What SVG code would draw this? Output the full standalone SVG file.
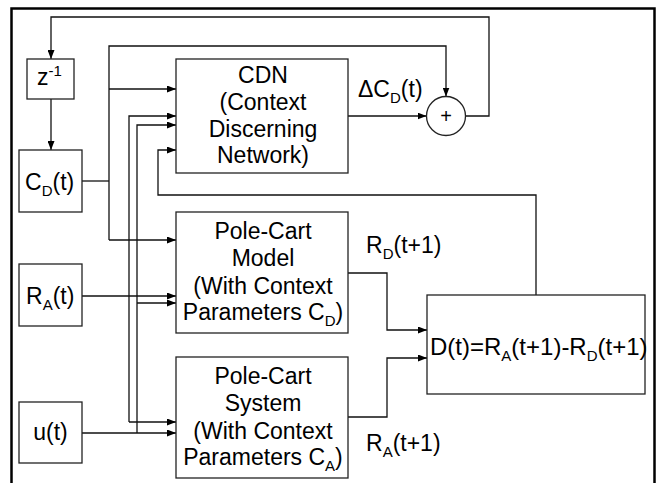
<svg xmlns="http://www.w3.org/2000/svg" width="660" height="483" viewBox="0 0 660 483">
<style>
.box{fill:#fff;stroke:#222;stroke-width:1.3}
.ln{fill:none;stroke:#111;stroke-width:1.3}
.arr{marker-end:url(#ah)}
text{font-family:"Liberation Sans",Arial,sans-serif;fill:#000;font-size:23px}
.c{text-anchor:middle}
.sub{font-size:15px}
</style>
<defs>
<marker id="ah" markerUnits="userSpaceOnUse" markerWidth="9" markerHeight="7" refX="9" refY="3.5" orient="auto">
<path d="M0,0 L9,3.5 L0,7 z" fill="#000"/>
</marker>
</defs>
<rect x="0" y="0" width="660" height="483" fill="#fff"/>
<rect x="11.5" y="8.5" width="643" height="490" fill="none" stroke="#000" stroke-width="2.5"/>

<g id="connectors">
<polyline class="ln" points="466,116 489,116 489,17 51,17 51,59" marker-end="url(#ah)"/>
<line class="ln arr" x1="51" y1="99" x2="51" y2="150"/>
<polyline class="ln" points="82,181 109,181"/>
<polyline class="ln arr" points="109,240 109,46 446,46 446,96.5"/>
<line class="ln arr" x1="109" y1="89" x2="176" y2="89"/>
<polyline class="ln arr" points="109,240 176,240"/>
<polyline class="ln arr" points="129,422 129,116 176,116"/>
<line class="ln arr" x1="129" y1="422" x2="176" y2="422"/>
<polyline class="ln arr" points="137,433 137,125 176,125"/>
<line class="ln arr" x1="137" y1="303" x2="176" y2="303"/>
<line class="ln arr" x1="82" y1="296" x2="176" y2="296"/>
<line class="ln arr" x1="82" y1="433" x2="176" y2="433"/>
<line class="ln arr" x1="348" y1="116" x2="426.5" y2="116"/>
<polyline class="ln arr" points="536,295 536,195 158,195 158,150 176,150"/>
<polyline class="ln arr" points="348,273 387,273 387,330 427,330"/>
<polyline class="ln arr" points="348,417 387,417 387,358 427,358"/>
</g>

<g id="z-inv">
<rect class="box" x="27" y="59" width="47" height="40"/>
<text x="37" y="85">z<tspan class="sub" dy="-9">-1</tspan></text>
</g>
<g id="cd">
<rect class="box" x="19" y="150" width="63" height="62"/>
<text x="25" y="190">C<tspan class="sub" dy="6">D</tspan><tspan dy="-6">(t)</tspan></text>
</g>
<g id="ra">
<rect class="box" x="19" y="264" width="63" height="62"/>
<text x="26" y="304">R<tspan class="sub" dy="6">A</tspan><tspan dy="-6">(t)</tspan></text>
</g>
<g id="u">
<rect class="box" x="19" y="402" width="63" height="61"/>
<text x="50.5" y="440" class="c">u(t)</text>
</g>
<g id="cdn">
<rect class="box" x="176" y="59" width="172" height="114"/>
<text class="c" x="263" y="83">CDN</text>
<text class="c" x="263" y="110">(Context</text>
<text class="c" x="263" y="137">Discerning</text>
<text class="c" x="263" y="163">Network)</text>
</g>
<g id="sum">
<circle cx="446" cy="116" r="19.5" fill="#fff" stroke="#222" stroke-width="1.3"/>
<text class="c" x="446" y="123" style="font-size:20px">+</text>
</g>
<text x="358" y="97">ΔC<tspan class="sub" dy="6">D</tspan><tspan dy="-6">(t)</tspan></text>
<g id="pc-model">
<rect class="box" x="176" y="212" width="172" height="121"/>
<text class="c" x="263" y="239">Pole-Cart</text>
<text class="c" x="263" y="266">Model</text>
<text class="c" x="263" y="294">(With Context</text>
<text class="c" x="263" y="320">Parameters C<tspan class="sub" dy="6">D</tspan><tspan dy="-6">)</tspan></text>
</g>
<g id="pc-system">
<rect class="box" x="176" y="357" width="172" height="121"/>
<text class="c" x="263" y="384">Pole-Cart</text>
<text class="c" x="263" y="411">System</text>
<text class="c" x="263" y="439">(With Context</text>
<text class="c" x="263" y="465">Parameters C<tspan class="sub" dy="6">A</tspan><tspan dy="-6">)</tspan></text>
</g>
<text x="366" y="253">R<tspan class="sub" dy="6">D</tspan><tspan dy="-6">(t+1)</tspan></text>
<text x="366" y="451">R<tspan class="sub" dy="6">A</tspan><tspan dy="-6">(t+1)</tspan></text>
<g id="d-box">
<rect class="box" x="427" y="295" width="218" height="99"/>
<text x="430" y="355" style="font-size:24px">D(t)=R<tspan class="sub" dy="6">A</tspan><tspan dy="-6">(t+1)-R</tspan><tspan class="sub" dy="6">D</tspan><tspan dy="-6">(t+1)</tspan></text>
</g>
</svg>
